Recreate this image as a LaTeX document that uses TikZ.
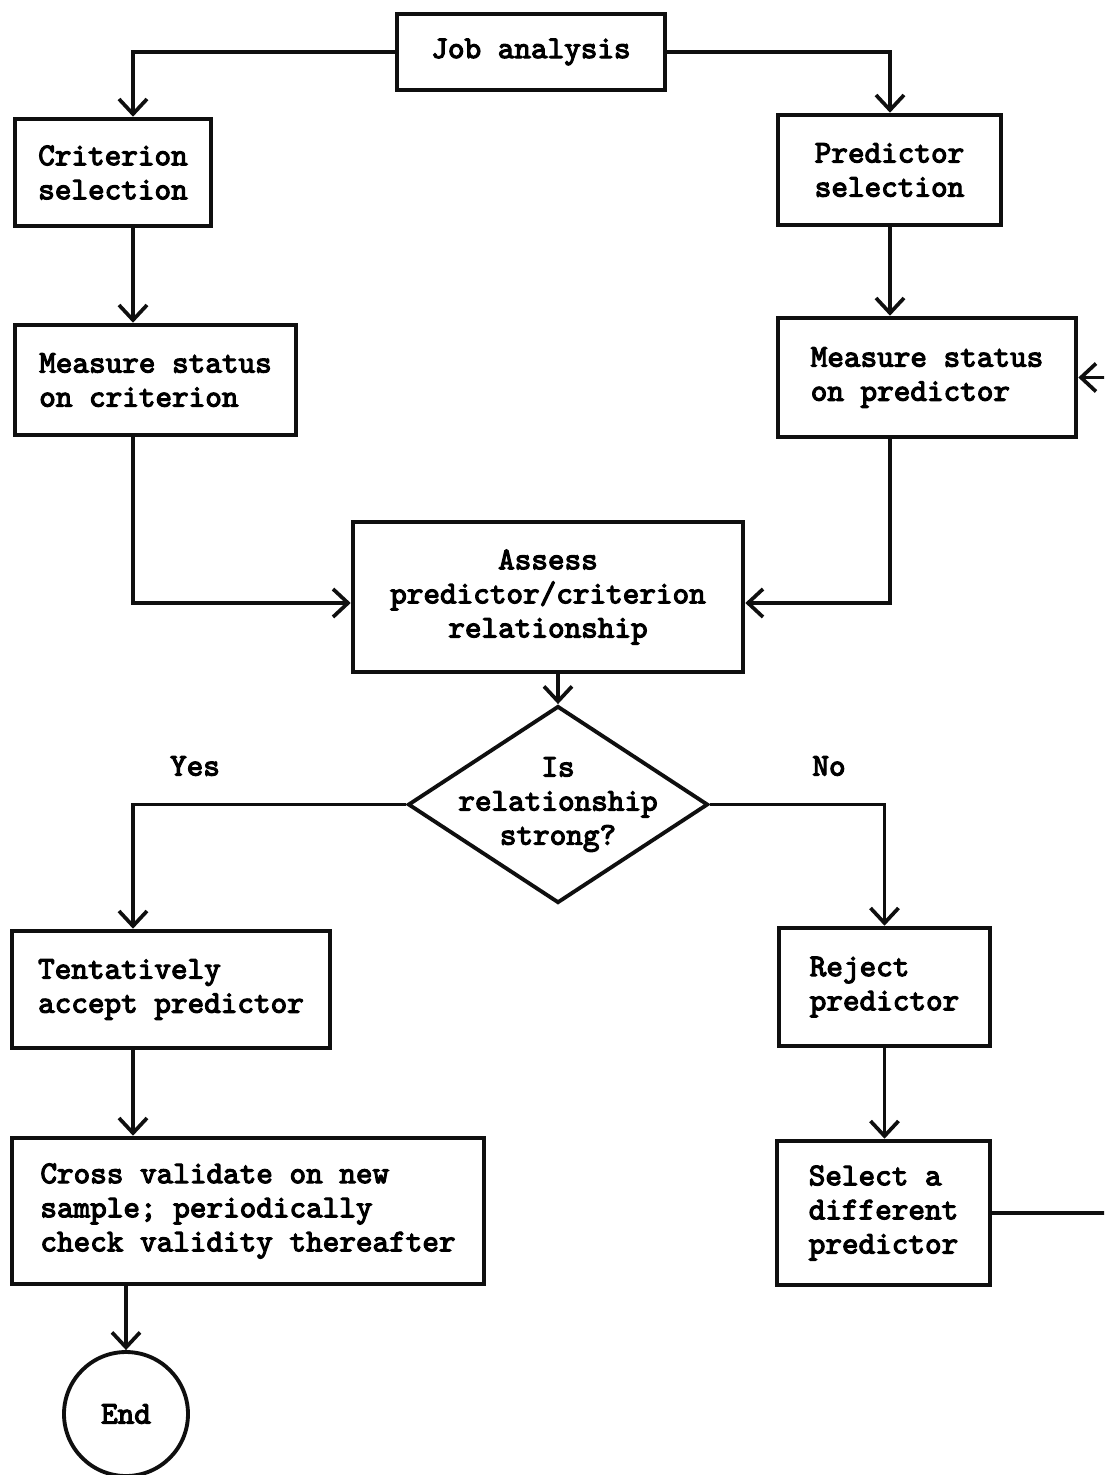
\documentclass[tikz,border=0pt]{standalone}
\usepackage{fontspec}
\usepackage{xcolor}
\usepackage{tikz}
\usetikzlibrary{shapes.geometric, arrows.meta, positioning, calc}
\newfontfamily\typefont{lmmono10-regular.otf}[FakeBold=3.6]
\definecolor{inkcolor}{RGB}{15,15,15}

\begin{document}
\begin{tikzpicture}[
    box/.style={draw=inkcolor, line width=2.6pt, align=left, inner sep=0pt, font=\typefont\fontsize{18}{19.4}\selectfont},
    decision/.style={diamond, draw=inkcolor, line width=2.2pt, inner sep=0pt, minimum width=6cm, minimum height=3.94cm},
    terminal/.style={circle, draw=inkcolor, line width=2.2pt, minimum size=2.48cm, inner sep=0pt, font=\typefont\fontsize{18}{19.4}\selectfont},
    lbl/.style={align=center, font=\typefont\fontsize{18}{19.4}\selectfont},
    arrow/.style={-{Straight Barb[length=0.3cm, width=0.56cm]}, line width=2.1pt, inkcolor}
]
    \useasboundingbox (0,0) rectangle (22.08,-29.5);
    \clip (0,0) rectangle (22.08,-29.5);

    % Columns
    \coordinate (leftcol) at (2.66,0);
    \coordinate (rightcol) at (17.8,0);

    % Boxes
    \node[box, align=center, minimum width=5.36cm, minimum height=1.52cm] (job) at (10.62,-1.04) {Job analysis};
    \node[box, minimum width=3.92cm, minimum height=2.14cm] (crit) at (2.26,-3.45) {Criterion\\selection};
    \node[box, minimum width=4.46cm, minimum height=2.2cm] (pred) at (17.79,-3.40) {Predictor\\selection};
    \node[box, minimum width=5.62cm, minimum height=2.2cm] (meascrit) at (3.11,-7.60) {Measure status\\on criterion};
    \node[box, minimum width=5.96cm, minimum height=2.38cm] (measpred) at (18.54,-7.55) {Measure status\\on predictor};
    \node[box, align=center, minimum width=7.8cm, minimum height=3.0cm] (assess) at (10.96,-11.94) {Assess\\predictor/criterion\\relationship};

    % Decision
    \node[decision] (decide) at (11.16,-16.09) {};
    \node[lbl] (decidetext) at (decide.center) {Is\\relationship\\strong?};
    \node[lbl] (yeslabel) at (3.9,-15.32) {Yes};
    \node[lbl] (nolabel) at (16.58,-15.32) {No};

    % Outcomes
    \node[box, minimum width=6.36cm, minimum height=2.34cm] (accept) at (3.42,-19.79) {Tentatively\\accept predictor};
    \node[box, minimum width=4.22cm, minimum height=2.36cm] (reject) at (17.69,-19.74) {Reject\\predictor};
    \node[box, minimum width=9.44cm, minimum height=2.92cm] (crossval) at (4.96,-24.22) {Cross validate on new\\sample; periodically\\check validity thereafter};
    \node[box, minimum width=4.26cm, minimum height=2.88cm] (select) at (17.67,-24.26) {Select a\\different\\predictor};
    \node[terminal] (finish) at (2.52,-28.28) {End};

    % Arrows
    \draw[arrow] (job.west) -| (crit.north -| leftcol);
    \draw[arrow] (job.east) -| (pred.north -| rightcol);
    \draw[arrow] (crit.south -| leftcol) -- (meascrit.north -| leftcol);
    \draw[arrow] (pred.south -| rightcol) -- (measpred.north -| rightcol);
    \draw[arrow] (meascrit.south -| leftcol) |- ([yshift=-0.12cm]assess.west);
    \draw[arrow] (measpred.south -| rightcol) |- ([yshift=-0.12cm]assess.east);
    \draw[arrow] (assess.south -| decide.north) -- (decide.north);
    \draw[arrow] (decide.west) -| (accept.north -| leftcol);
    \draw[arrow] (decide.east) -| (reject.north);
    \draw[arrow] (accept.south -| leftcol) -- (crossval.north -| leftcol);
    \draw[arrow] (reject.south) -- (reject.south |- select.north);
    \draw[arrow] (crossval.south -| finish.north) -- (finish.north);

    % Loop back off the page edge
    \coordinate (loopback) at (22.8,-24.3);
    \draw[arrow] (select.east) -- (select.east -| loopback) |- (measpred.east);
\end{tikzpicture}
\end{document}
